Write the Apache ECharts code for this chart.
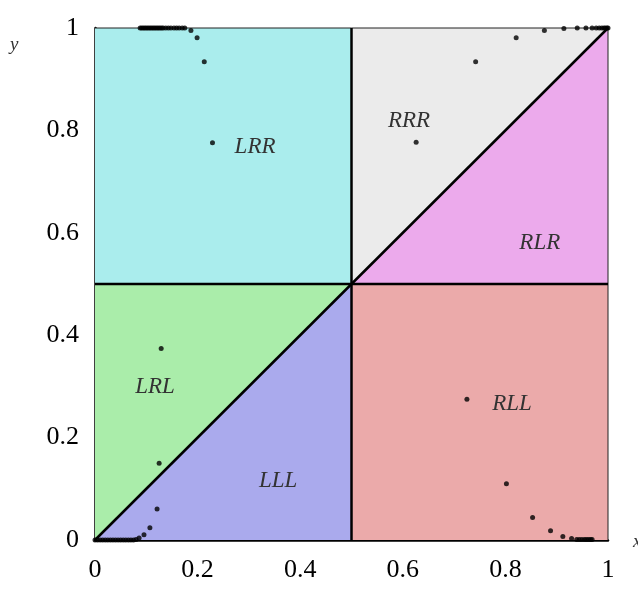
<!DOCTYPE html>
<html><head><meta charset="utf-8">
<script src="https://cdn.jsdelivr.net/npm/echarts@6/dist/echarts.min.js"></script>
<style>html,body{margin:0;padding:0;background:#fff}#c{width:638px;height:590px}</style>
</head><body><div id="c"></div>
<script>
// Region names, label anchor positions and polygon vertices (data coordinates)
var regionNames = ['LRR','RRR','RLR','LRL','LLL','RLL'];
var regionLabelX = [0.312, 0.612, 0.867, 0.117, 0.357, 0.813];
var regionLabelY = [0.768, 0.818, 0.580, 0.299, 0.115, 0.266];
var regionColors = ['#aaeded','#ebebeb','#ecaaec','#aaedaa','#aaaaed','#ebaaaa'];
var regionPolys = [
  [[0,0.5],[0.5,0.5],[0.5,1],[0,1]],
  [[0.5,0.5],[1,1],[0.5,1]],
  [[0.5,0.5],[1,0.5],[1,1]],
  [[0,0],[0.5,0.5],[0,0.5]],
  [[0,0],[0.5,0],[0.5,0.5]],
  [[0.5,0],[1,0],[1,0.5],[0.5,0.5]]
];
// Orbit points
var ptsX = [
  0.088,0.091,0.094,0.097,0.100,0.103,0.106,0.109,0.112,0.115,0.118,0.121,0.124,0.127,0.130,0.133,0.138,0.143,0.148,0.154,0.159,0.164,0.170,0.175,
  0.187,0.199,0.213,0.229,
  0.626,0.742,0.821,0.876,0.914,0.940,0.957,0.969,0.977,0.983,0.988,0.992,0.995,0.998,1.000,
  0.000,0.005,0.010,0.015,0.020,0.025,0.030,0.035,0.040,0.045,0.050,0.055,0.060,0.065,0.070,0.075,0.080,
  0.086,0.0955,0.107,0.121,0.125,0.129,
  0.725,0.802,0.853,0.888,0.912,0.929,0.939,0.944,0.949,0.954,0.958,0.962,0.966,0.969
];
var ptsY = [
  1,1,1,1,1,1,1,1,1,1,1,1,1,1,1,1,1,1,1,1,1,1,1,1,
  0.995,0.981,0.934,0.776,
  0.777,0.934,0.981,0.995,0.999,1,1,1,1,1,1,1,1,1,1,
  0,0,0,0,0,0,0,0,0,0,0,0,0,0,0,0,0.001,
  0.004,0.0104,0.024,0.0605,0.150,0.374,
  0.275,0.110,0.044,0.018,0.007,0.003,0.001,0.001,0.001,0.001,0.001,0.001,0.001,0.001
];
// Dividing lines
var vLine = [[0.5,0],[0.5,1]];
var hLine = [[0,0.5],[1,0.5]];
var diag = [[0,0],[1,1]];
var topEdge = [[0,1],[1,1]];
var rightEdge = [[1,0],[1,1]];
// Point labels
var endLabels = [{name:'B', x:0.097, y:1.031},{name:'A', x:0.945, y:-0.049}];

var chart = echarts.init(document.getElementById('c'));
var serif = 'Liberation Serif';
function lineSeries(d, w, col){
  return {type:'line', data:d, showSymbol:false, symbol:'none', silent:true, z:5,
    lineStyle:{color:col, width:w}, clip:false};
}
chart.setOption({
  animation:false,
  grid:{left:95, right:30, top:28, bottom:50},
  xAxis:{type:'value', min:0, max:1, interval:0.2,
    axisLine:{show:true, onZero:false, lineStyle:{color:'#000', width:2.5}},
    axisTick:{show:false}, splitLine:{show:false},
    axisLabel:{fontFamily:serif, fontSize:26, color:'#000', margin:17}},
  yAxis:{type:'value', min:0, max:1, interval:0.2,
    axisLine:{show:true, onZero:false, lineStyle:{color:'#000', width:2.5}},
    axisTick:{show:false}, splitLine:{show:false},
    axisLabel:{fontFamily:serif, fontSize:26, color:'#000', margin:16}},
  series:[
    {type:'custom', z:1, silent:true,
     data: regionNames.map(function(n,i){return [regionLabelX[i], regionLabelY[i]];}),
     encode:{x:0,y:1},
     renderItem:function(params, api){
       var i = params.dataIndex;
       var pts = regionPolys[i].map(function(p){return api.coord(p);});
       var c = api.coord([regionLabelX[i], regionLabelY[i]]);
       return {type:'group', children:[
         {type:'polygon', shape:{points:pts}, style:{fill:regionColors[i]}},
         {type:'text', x:c[0], y:c[1], z2:10, style:{text:regionNames[i], fill:'#333',
           font:'italic 23px "Liberation Serif"', textAlign:'center', textVerticalAlign:'middle'}}
       ]};
     }},
    lineSeries(topEdge, 1, '#222'),
    lineSeries(rightEdge, 1, '#222'),
    lineSeries(vLine, 2.5, '#000'),
    lineSeries(hLine, 2.5, '#000'),
    lineSeries(diag, 2.5, '#000'),
    {type:'scatter', z:8, symbolSize:5, itemStyle:{color:'#000'},
     data: ptsX.map(function(x,i){return [x, ptsY[i]];}), clip:false, silent:true},
    {type:'scatter', z:9, symbolSize:0, silent:true,
     data: endLabels.map(function(e){return {value:[e.x,e.y], name:e.name};}),
     label:{show:true, position:'inside', formatter:'{b}', fontFamily:serif, fontStyle:'italic',
       fontSize:21, color:'#333'}}
  ],
  graphic:[
    {type:'text', left:10, top:35, style:{text:'y', font:'italic 19px "Liberation Serif"', fill:'#333'}},
    {type:'text', left:633, top:532, style:{text:'x', font:'italic 19px "Liberation Serif"', fill:'#333'}}
  ]
});
</script></body></html>
